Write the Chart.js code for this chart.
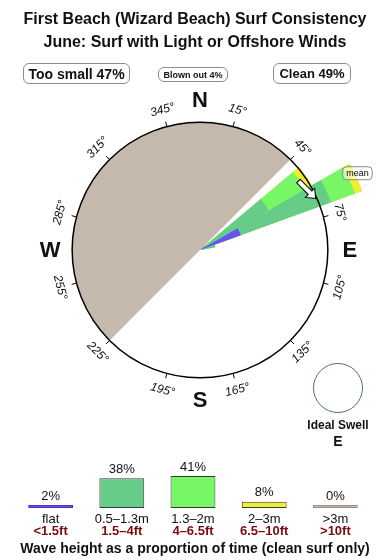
<!DOCTYPE html>
<html>
<head>
<meta charset="utf-8">
<script src="https://cdn.jsdelivr.net/npm/chart.js@4.4.1/dist/chart.umd.min.js"></script>
<style>
  html, body { margin: 0; padding: 0; background: #fff; }
  body {
    width: 390px; height: 560px; position: relative; overflow: hidden;
    font-family: "Liberation Sans", Arial, Helvetica, sans-serif; color: #111;
  }
  .title { position: absolute; left: 0; width: 390px; text-align: center; font-weight: bold; font-size: 16px; line-height: 18px; z-index: 2; }
  .pill {
    position: absolute; box-sizing: border-box; border: 1px solid #8c8c8c; border-radius: 6px;
    font-weight: bold; display: flex; align-items: center; justify-content: center; z-index: 2;
  }
  #rose { position: absolute; left: 0; top: 0; z-index: 1; }
  #heights { position: absolute; left: 15px; top: 440px; z-index: 1; }
  #ideal { position: absolute; left: 313px; top: 363px; width: 50px; height: 50px; box-sizing: border-box;
    border: 1px solid #4f6d8c; border-radius: 50%; z-index: 2; }
  .idealTxt { position: absolute; left: 288px; width: 100px; text-align: center; font-weight: bold; z-index: 2; }
  #caption { position: absolute; left: 0; top: 539px; width: 390px; text-align: center; font-weight: bold; font-size: 14px; line-height: 18px; z-index: 2; }
</style>
</head>
<body>
<div class="title" style="top:10px">First Beach (Wizard Beach) Surf Consistency</div>
<div class="title" style="top:33px">June: Surf with Light or Offshore Winds</div>
<div class="pill" style="left:23px; top:63px; width:107px; height:21px; font-size:14px">Too small 47%</div>
<div class="pill" style="left:158px; top:67px; width:70px; height:15px; font-size:9px">Blown out 4%</div>
<div class="pill" style="left:273px; top:63px; width:78px; height:21px; font-size:13px">Clean 49%</div>

<canvas id="rose" width="390" height="560"></canvas>
<div id="ideal"></div>
<div class="idealTxt" style="top:418px; font-size:12px">Ideal Swell</div>
<div class="idealTxt" style="top:433px; font-size:14px">E</div>

<canvas id="heights" width="356" height="100"></canvas>
<div id="caption">Wave height as a proportion of time (clean surf only)</div>

<script>
// compass rose data (radial units: the compass ring = 100)
const ringValue = 100;
const blockedFrom = 225;   // grey sector, no clean surf from here...
const blockedTo = 45;      // ...round to here
const swellDirs = [50, 60, 70];   // start bearing of each swell bin
const binWidth = 10;
const flatLen  = [5, 34, 0];      // flat
const smallLen = [57, 75, 12];    // 0.5-1.3m
const midLen   = [33, 20, 0];     // 1.3-2m
const bigLen   = [6, 6, 0];       // 2-3m
const hugeLen  = [0, 0, 0];       // >3m
const degreeTicks = [15, 45, 75, 105, 135, 165, 195, 225, 255, 285, 315, 345];
const compassNames = ['N', 'E', 'S', 'W'];
const compassDegs = [0, 90, 180, 270];
const meanDir = 64;
const meanLen = 137;

// bottom bars
const heightBands = ['flat', '0.5\u20131.3m', '1.3\u20132m', '2\u20133m', '>3m'];
const heightFeet = ['<1.5ft', '1.5\u20134ft', '4\u20136.5ft', '6.5\u201310ft', '>10ft'];
const heightShare = [2, 38, 41, 8, 0];

const bandColors = ['#6652f5', '#66cc88', '#77f765', '#eeee33', '#c4b8ac'];
const bandBorders = ['#4434b8', '#3c3c3c', '#3c3c3c', '#3c3c3c', '#9c9088'];
const blockedColor = '#c5b9ad';
const FONT = '"Liberation Sans", Arial, Helvetica, sans-serif';

// sectors go clockwise from blockedFrom, each with its own angle
const span = (a, b) => ((b - a) % 360 + 360) % 360;
const sectorAngles = [];
const sectorKind = [];
sectorAngles.push(span(blockedFrom, blockedTo));
sectorKind.push('blocked');
let pos = blockedTo;
swellDirs.forEach((d, i) => {
    if (span(pos, d) > 0) { sectorAngles.push(span(pos, d)); sectorKind.push('gap'); }
    sectorAngles.push(binWidth);
    sectorKind.push(i);
    pos = d + binWidth;
});
sectorAngles.push(span(pos, blockedFrom));
sectorKind.push('gap');

// stacked bands: draw cumulative lengths, inner band on top
const bands = [flatLen, smallLen, midLen, bigLen, hugeLen];
const roseSets = bands.map((band, k) => {
    const data = sectorKind.map(kind => {
        if (typeof kind !== 'number') return null;
        let sum = 0;
        for (let j = 0; j <= k; j++) sum += bands[j][kind];
        return sum;
    });
    return { data: data, backgroundColor: bandColors[k], borderWidth: 0, angle: c => sectorAngles[c.dataIndex] };
});
roseSets.push({
    data: sectorKind.map(kind => kind === 'blocked' ? ringValue : null),
    backgroundColor: blockedColor,
    borderWidth: 0,
    angle: c => sectorAngles[c.dataIndex]
});

const roseDecor = {
    id: 'roseDecor',
    afterDraw(chart) {
        const ctx = chart.ctx;
        const s = chart.scales.r;
        const cx = s.xCenter, cy = s.yCenter;
        const R = s.getDistanceFromCenterForValue(ringValue);
        const pt = (deg, r) => [cx + r * Math.sin(deg * Math.PI / 180), cy - r * Math.cos(deg * Math.PI / 180)];
        ctx.save();
        ctx.strokeStyle = '#000';
        ctx.lineWidth = 1;
        degreeTicks.forEach(d => {
            const a = pt(d, R), b = pt(d, R + 5);
            ctx.beginPath(); ctx.moveTo(a[0], a[1]); ctx.lineTo(b[0], b[1]); ctx.stroke();
        });
        ctx.fillStyle = '#111';
        ctx.textAlign = 'center';
        ctx.textBaseline = 'middle';
        ctx.font = 'italic 12px ' + FONT;
        degreeTicks.forEach(d => {
            const p = pt(d, R + 17);
            let rot = d;
            if (d > 90 && d < 270) rot = d - 180;
            ctx.save();
            ctx.translate(p[0], p[1]);
            ctx.rotate(rot * Math.PI / 180);
            ctx.fillText(d + '\u00b0', 0, 0);
            ctx.restore();
        });
        ctx.font = 'bold 22px ' + FONT;
        compassNames.forEach((n, i) => {
            const p = pt(compassDegs[i], R + 22);
            ctx.fillText(n, p[0], p[1] + 1);
        });

        // mean arrow sitting on the ring
        const tail = pt(meanDir - 9, s.getDistanceFromCenterForValue(94));
        const tip = pt(meanDir + 2, s.getDistanceFromCenterForValue(99));
        const ang = Math.atan2(tip[1] - tail[1], tip[0] - tail[0]);
        const len = Math.hypot(tip[0] - tail[0], tip[1] - tail[1]);
        ctx.save();
        ctx.translate(tail[0], tail[1]);
        ctx.rotate(ang);
        ctx.beginPath();
        ctx.moveTo(0, -2.5);
        ctx.lineTo(len - 8, -2.5);
        ctx.lineTo(len - 8, -6.5);
        ctx.lineTo(len, 0);
        ctx.lineTo(len - 8, 6.5);
        ctx.lineTo(len - 8, 2.5);
        ctx.lineTo(0, 2.5);
        ctx.closePath();
        ctx.fillStyle = '#fff';
        ctx.fill();
        ctx.strokeStyle = '#000';
        ctx.lineWidth = 1;
        ctx.stroke();
        ctx.restore();

        // mean label at the end of the longest bar
        const m = pt(meanDir, s.getDistanceFromCenterForValue(meanLen));
        ctx.font = '9px ' + FONT;
        const w = ctx.measureText('mean').width + 7;
        ctx.beginPath();
        ctx.roundRect(m[0] - w / 2, m[1] - 6.5, w, 13, 4);
        ctx.fillStyle = 'rgba(255,255,255,0.55)';
        ctx.fill();
        ctx.strokeStyle = '#888';
        ctx.stroke();
        ctx.fillStyle = '#000';
        ctx.fillText('mean', m[0], m[1] + 0.5);
        ctx.restore();
    }
};

new Chart(document.getElementById('rose'), {
    type: 'polarArea',
    data: { labels: sectorKind.map(String), datasets: roseSets },
    options: {
        responsive: false,
        animation: false,
        layout: { padding: { left: 21, top: 71, right: 11, bottom: 131 } },
        plugins: { legend: { display: false }, tooltip: { enabled: false } },
        scales: {
            r: {
                min: 0,
                max: 140,
                startAngle: blockedFrom,
                afterBuildTicks: scale => { scale.ticks = [{ value: 0 }, { value: ringValue }]; },
                ticks: { display: false },
                grid: { circular: true, color: '#000', lineWidth: 1.5, z: 1 },
                angleLines: { display: false },
                pointLabels: { display: false }
            }
        }
    },
    plugins: [roseDecor]
});

const barText = {
    id: 'barText',
    afterDatasetsDraw(chart) {
        const ctx = chart.ctx;
        const meta = chart.getDatasetMeta(0);
        const bottom = chart.chartArea.bottom;
        ctx.save();
        ctx.textAlign = 'center';
        ctx.textBaseline = 'middle';
        meta.data.forEach((bar, i) => {
            const top = Math.min(bar.y, bar.base);
            ctx.fillStyle = '#111';
            ctx.font = '13px ' + FONT;
            ctx.fillText(heightShare[i] + '%', bar.x, top - 9);
            ctx.fillText(heightBands[i], bar.x, bottom + 11);
            ctx.fillStyle = '#7a0c0c';
            ctx.font = 'bold 13px ' + FONT;
            ctx.fillText(heightFeet[i], bar.x, bottom + 23);
        });
        ctx.restore();
    }
};

new Chart(document.getElementById('heights'), {
    type: 'bar',
    data: {
        labels: heightBands,
        datasets: [{
            data: heightShare,
            backgroundColor: bandColors,
            borderColor: bandBorders,
            borderWidth: 1,
            borderSkipped: false,
            minBarLength: 3,
            barPercentage: 0.63,
            categoryPercentage: 1,
            clip: false
        }]
    },
    options: {
        responsive: false,
        animation: false,
        layout: { padding: { bottom: 32 } },
        plugins: { legend: { display: false }, tooltip: { enabled: false } },
        scales: {
            x: { display: false },
            y: { display: false, min: 0, max: 87 }
        }
    },
    plugins: [barText]
});
</script>
</body>
</html>
